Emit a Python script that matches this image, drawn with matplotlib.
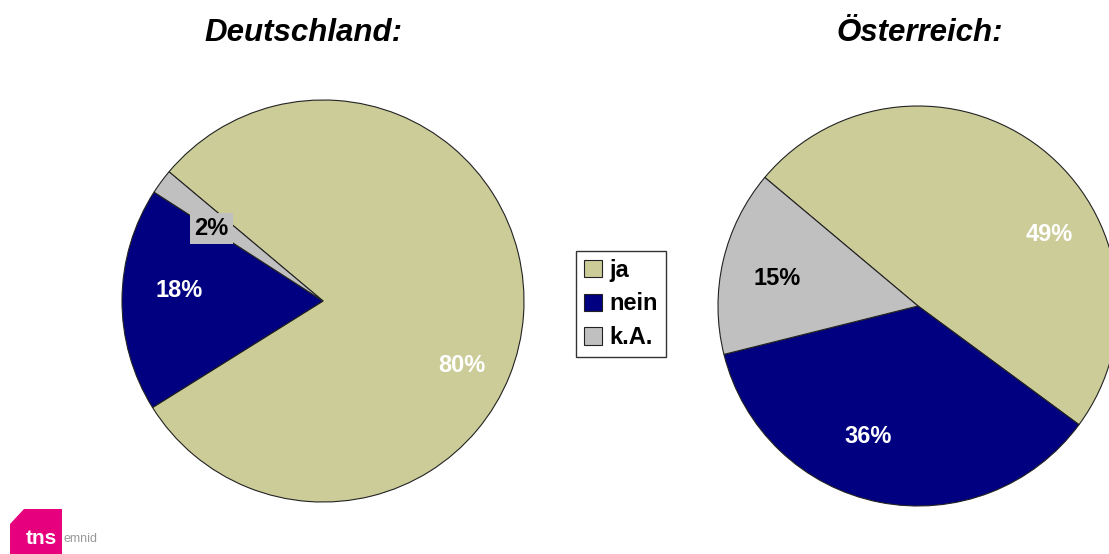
import numpy as np
import matplotlib
matplotlib.use("Agg")
import matplotlib.pyplot as plt
from matplotlib.patches import Polygon

plt.rcParams['font.family'] = ['Liberation Sans', 'DejaVu Sans']

# data
categories = ['ja', 'nein', 'k.A.']
colors = ['#CCCC99', '#000080', '#C0C0C0']
countries = ['Deutschland:', 'Österreich:']
de_values = [80, 18, 2]
at_values = [49, 36, 15]
# label colours per slice (white on dark/khaki, black on grey)
de_label_colors = ['white', 'white', 'black']
at_label_colors = ['white', 'white', 'black']

W, H = 1109, 554
fig = plt.figure(figsize=(W / 100, H / 100), dpi=100)
ax = fig.add_axes([0, 0, 1, 1])

# pie centres / radii in pixel units (y from bottom)
pies = [
    (de_values, (323, H - 301), 201, de_label_colors, [(-25, 0.76), (175.7, 0.72), (147, 0.66)]),
    (at_values, (918, H - 306), 200, at_label_colors, [(28.6, 0.75), (-110.7, 0.70), (168.8, 0.72)]),
]

wedges_all = []
for vals, c, r, lcols, lpos in pies:
    wedges, texts, autotexts = ax.pie(
        vals, colors=colors, startangle=140, counterclock=False,
        center=c, radius=r, frame=True,
        autopct='%d%%', pctdistance=0.73,
        wedgeprops=dict(edgecolor='#222222', linewidth=0.8),
        textprops=dict(fontsize=17, fontweight='bold'))
    wedges_all.append(wedges)
    for t, col, (ang, d) in zip(autotexts, lcols, lpos):
        t.set_color(col)
        t.set_position((c[0] + d * r * np.cos(np.radians(ang)),
                        c[1] + d * r * np.sin(np.radians(ang))))
    if vals is de_values:
        autotexts[2].set_bbox(dict(facecolor='#C0C0C0', edgecolor='none', pad=3))

ax.set_xlim(0, W)
ax.set_ylim(0, H)
ax.set_aspect('equal')
ax.axis('off')

# titles
fig.text(303 / W, 1 - 33 / H, countries[0], ha='center', va='center',
         fontsize=22.5, fontweight='bold', fontstyle='italic')
fig.text(920 / W, 1 - 33 / H, countries[1], ha='center', va='center',
         fontsize=22.5, fontweight='bold', fontstyle='italic')

# legend
leg = fig.legend(wedges_all[0], categories, loc='center',
                 bbox_to_anchor=(621 / W, 1 - 304 / H),
                 prop=dict(size=17, weight='bold'),
                 frameon=True, fancybox=False, edgecolor='black',
                 handlelength=0.75, handleheight=0.75, handletextpad=0.3,
                 labelspacing=0.45, borderpad=0.35, borderaxespad=0)
leg.get_frame().set_linewidth(1.0)

# tns emnid logo
logo_ax = fig.add_axes([0, 0, 1, 1], facecolor='none')
logo_ax.set_xlim(0, W)
logo_ax.set_ylim(0, H)
logo_ax.axis('off')
logo_ax.add_patch(Polygon([(10, 0), (10, 30), (24, 45), (62, 45), (62, 0)],
                          closed=True, facecolor='#E6007E', edgecolor='none'))
logo_ax.text(41, H - 538, 'tns', color='white', fontsize=15, fontweight='bold',
             ha='center', va='center')
logo_ax.text(63, H - 539, 'emnid', color='#999999', fontsize=9,
             ha='left', va='center')

fig.savefig('out.png', dpi=100, facecolor='white')
